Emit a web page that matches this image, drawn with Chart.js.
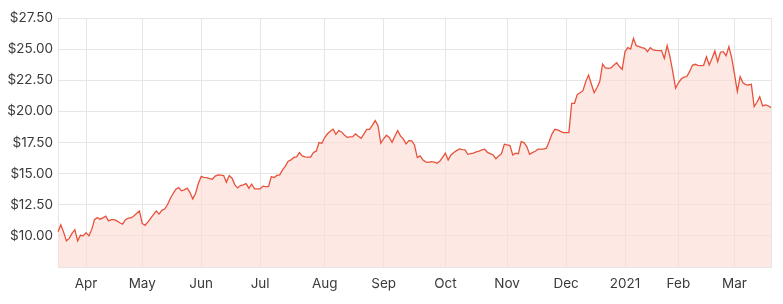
<!DOCTYPE html>
<html>
<head>
<meta charset="utf-8">
<script src="https://cdn.jsdelivr.net/npm/chart.js@4/dist/chart.umd.min.js"></script>
<style>
  html, body { margin: 0; padding: 0; background: #fff; }
  #wrap { width: 783px; height: 304px; }
</style>
</head>
<body>
<div id="wrap"><canvas id="price-chart" width="783" height="304"></canvas></div>
<script>
// ASX trading days, 18 Mar 2020 to 18 Mar 2021
const START_DATE = "2020-03-18";
const END_DATE = "2021-03-18";
const HOLIDAYS = ["2020-04-10", "2020-04-13", "2020-06-08", "2020-12-25", "2020-12-28", "2021-01-01", "2021-01-26"];
const MONTH_LABELS = ["Jan", "Feb", "Mar", "Apr", "May", "Jun", "Jul", "Aug", "Sep", "Oct", "Nov", "Dec"];

// closing price, one per trading day
const closePrices = [
  10.34, 10.9, 10.3, 9.6, 9.8, 10.2, 10.5, 9.6, 10.05, 10.0,
  10.26, 10.0, 10.5, 11.3, 11.47, 11.34, 11.45, 11.58, 11.2, 11.3,
  11.3, 11.2, 11.05, 10.94, 11.3, 11.42, 11.44, 11.6, 11.8, 12.0,
  11.0, 10.85, 11.1, 11.4, 11.7, 12.0, 11.75, 12.05, 12.15, 12.5,
  13.0, 13.4, 13.75, 13.88, 13.62, 13.7, 13.83, 13.5, 12.97, 13.4,
  14.2, 14.76, 14.7, 14.68, 14.6, 14.55, 14.8, 14.9, 14.88, 14.84,
  14.3, 14.84, 14.63, 14.1, 13.85, 14.04, 14.1, 14.2, 13.83, 14.15,
  13.77, 13.77, 13.77, 14.0, 13.96, 13.96, 14.76, 14.68, 14.86, 14.9,
  15.3, 15.6, 16.0, 16.1, 16.3, 16.34, 16.69, 16.42, 16.35, 16.32,
  16.32, 16.7, 16.8, 17.49, 17.44, 17.9, 18.2, 18.4, 18.56, 18.16,
  18.45, 18.35, 18.1, 17.92, 17.95, 17.97, 18.19, 18.0, 17.84, 18.2,
  18.56, 18.56, 18.9, 19.26, 18.85, 17.44, 17.8, 18.08, 17.9, 17.52,
  18.0, 18.45, 18.03, 17.79, 17.39, 17.65, 17.63, 17.3, 16.29, 16.42,
  16.1, 15.95, 15.9, 15.96, 15.92, 15.83, 16.0, 16.3, 16.64, 16.1,
  16.5, 16.7, 16.85, 16.98, 16.93, 16.9, 16.55, 16.6, 16.64, 16.75,
  16.8, 16.9, 16.96, 16.7, 16.6, 16.5, 16.2, 16.42, 16.6, 17.36,
  17.3, 17.25, 16.5, 16.64, 16.6, 17.57, 17.49, 17.17, 16.56, 16.69,
  16.8, 16.96, 16.96, 16.96, 17.04, 17.6, 18.2, 18.56, 18.51, 18.4,
  18.29, 18.29, 18.29, 20.65, 20.65, 21.37, 21.5, 21.66, 22.39, 22.92,
  22.2, 21.5, 21.9, 22.39, 23.8, 23.5, 23.46, 23.5, 23.7, 23.9,
  23.6, 23.38, 24.8, 25.12, 25.01, 25.87, 25.28, 25.2, 25.12, 25.07,
  24.8, 25.12, 24.93, 24.9, 24.88, 24.88, 24.26, 25.28, 24.4, 23.2,
  21.86, 22.3, 22.6, 22.75, 22.8, 23.19, 23.7, 23.78, 23.7, 23.67,
  23.7, 24.39, 23.73, 24.26, 24.85, 23.99, 24.75, 24.8, 24.47, 25.2,
  24.3, 23.0, 21.6, 22.79, 22.3, 22.15, 22.12, 22.18, 20.38, 20.73,
  21.18, 20.44, 20.52, 20.45, 20.3,
];

const Y_MIN = 7.5;
const Y_MAX = 27.5;
const Y_STEP = 2.5;

function isoDay(d) {
  return d.toISOString().slice(0, 10);
}

function buildTradingDays(start, end) {
  const days = [];
  const d = new Date(start + "T00:00:00Z");
  const last = new Date(end + "T00:00:00Z");
  while (d <= last) {
    const wd = d.getUTCDay();
    if (wd !== 0 && wd !== 6 && !HOLIDAYS.includes(isoDay(d))) {
      days.push(isoDay(d));
    }
    d.setUTCDate(d.getUTCDate() + 1);
  }
  return days;
}

const tradingDays = buildTradingDays(START_DATE, END_DATE);

// label on the first trading day of each month, nothing elsewhere
function monthStartLabel(index) {
  if (index === 0) return null;
  if (index === tradingDays.length - 1) return ""; // keeps the right edge grid line
  const cur = tradingDays[index];
  const prev = tradingDays[index - 1];
  if (cur.slice(0, 7) === prev.slice(0, 7)) return null;
  const month = Number(cur.slice(5, 7));
  return month === 1 ? cur.slice(0, 4) : MONTH_LABELS[month - 1];
}

const FONT = { family: "Inter, 'Open Sans', sans-serif", size: 13.5 };
const GRID_COLOR = "#e6e6e6";

new Chart(document.getElementById("price-chart"), {
  type: "line",
  data: {
    labels: tradingDays,
    datasets: [
      {
        data: closePrices,
        borderColor: "#e8523b",
        borderWidth: 1.3,
        backgroundColor: "rgba(252, 218, 211, 0.62)",
        fill: "start",
        pointRadius: 0,
        tension: 0,
      },
    ],
  },
  options: {
    responsive: false,
    animation: false,
    events: [],
    layout: { padding: { top: 18, right: 12, left: 0, bottom: 0 } },
    plugins: { legend: { display: false }, tooltip: { enabled: false } },
    scales: {
      x: {
        type: "category",
        offset: false,
        afterFit: (scale) => { scale.height = 37; },
        border: { color: GRID_COLOR },
        grid: { drawTicks: false, color: GRID_COLOR },
        ticks: {
          autoSkip: false,
          maxRotation: 0,
          padding: 9,
          color: "#3a3a3a",
          font: FONT,
          callback: (value, index) => monthStartLabel(index),
        },
      },
      y: {
        min: Y_MIN,
        max: Y_MAX,
        afterFit: (scale) => { scale.width = 58; },
        border: { color: GRID_COLOR },
        grid: { drawTicks: false, color: GRID_COLOR },
        ticks: {
          stepSize: Y_STEP,
          padding: 5,
          color: "#3a3a3a",
          font: FONT,
          callback: (value) => (value <= Y_MIN ? "" : "$" + Number(value).toFixed(2)),
        },
      },
    },
  },
});
</script>
</body>
</html>
